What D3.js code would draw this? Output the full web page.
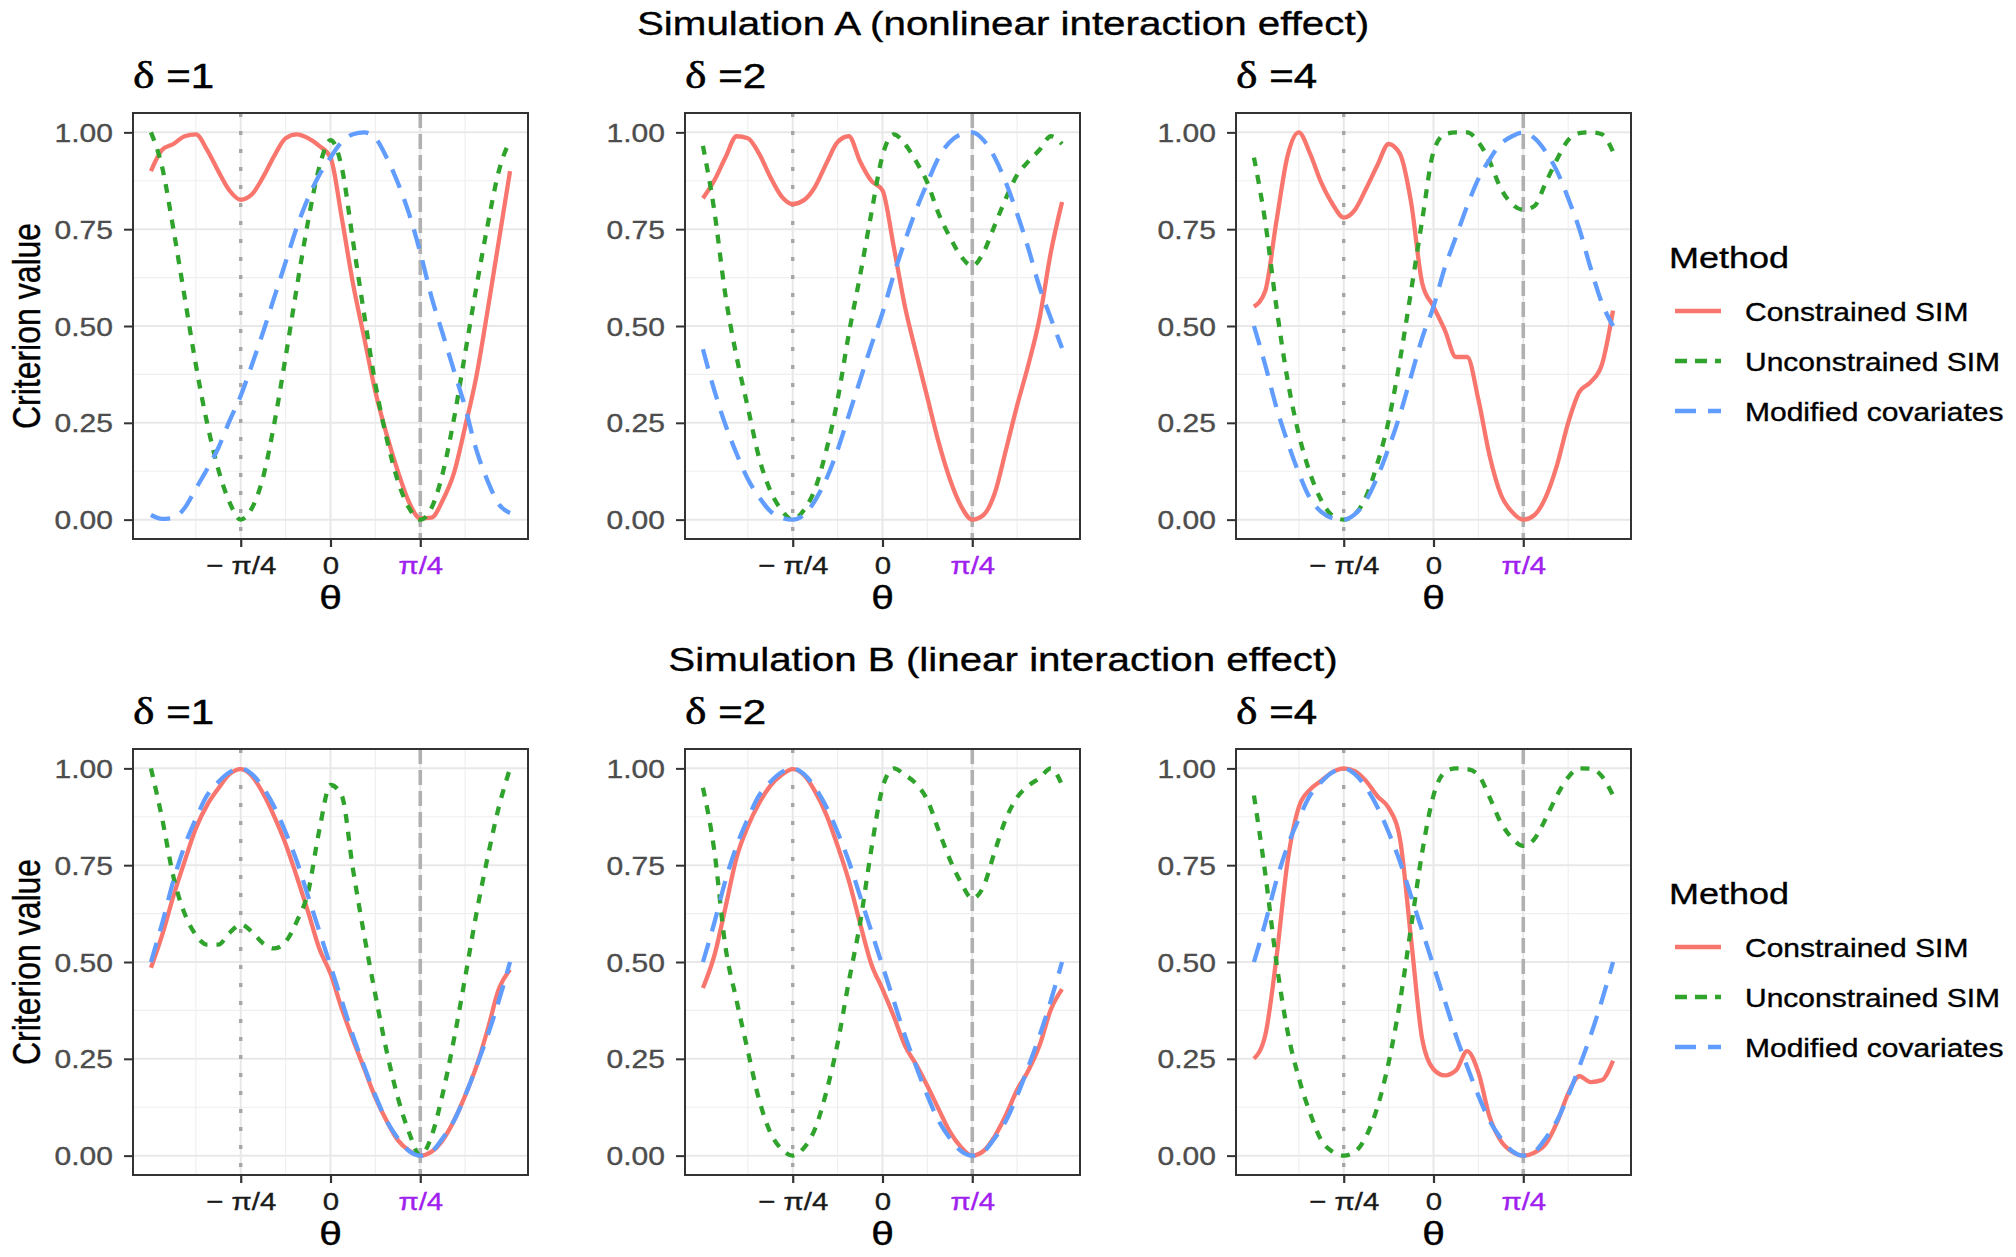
<!DOCTYPE html>
<html>
<head>
<meta charset="utf-8">
<script src="https://cdn.jsdelivr.net/npm/d3@7"></script>
<style>
  body { margin: 0; background: #ffffff; }
  svg { display: block; }
</style>
</head>
<body>
<svg id="chart" width="2016" height="1257"></svg>
<script>
// ---------------- DATA ----------------
// theta grid, in multiples of pi/32 (from -pi/2 to pi/2)
const thetaPi32 = [-16,-15,-14,-13,-12,-11,-10,-9,-8,-7,-6,-5,-4,-3,-2,-1,0,1,2,3,4,5,6,7,8,9,10,11,12,13,14,15,16];

const methods = ["Constrained SIM", "Unconstrained SIM", "Modified covariates"];
const simTitles = ["Simulation A (nonlinear interaction effect)", "Simulation B (linear interaction effect)"];
const deltas = [1, 2, 4];
const yTickValues = [0, 0.25, 0.5, 0.75, 1];
const yTickLabels = ["0.00", "0.25", "0.50", "0.75", "1.00"];
const xTickPi4 = [-1, 0, 1];            // multiples of pi/4
const xTickLabels = ["\u2212 \u03C0/4", "0", "\u03C0/4"];
const xMinorPi8 = [-3, -1, 1, 3];       // multiples of pi/8
const yMinorValues = [0.125, 0.375, 0.625, 0.875];

// Simulation A
const A1_constrained   = [0.90,0.955,0.97,0.99,0.995,0.955,0.90,0.85,0.826,0.84,0.885,0.94,0.985,0.995,0.985,0.965,0.935,0.78,0.61,0.47,0.33,0.22,0.125,0.045,0.003,0.005,0.05,0.12,0.24,0.37,0.54,0.72,0.90];
const A1_unconstrained = [1.0,0.91,0.75,0.575,0.40,0.25,0.13,0.045,0.0,0.03,0.11,0.25,0.42,0.60,0.77,0.91,0.98,0.91,0.72,0.53,0.35,0.21,0.10,0.03,0.0,0.03,0.12,0.26,0.43,0.60,0.76,0.90,0.98];
const A1_modified      = [0.012,0.002,0.005,0.03,0.08,0.13,0.185,0.255,0.32,0.40,0.485,0.575,0.665,0.755,0.83,0.89,0.935,0.975,0.995,1.0,0.985,0.935,0.87,0.79,0.69,0.575,0.48,0.385,0.29,0.18,0.10,0.04,0.017];

const A2_constrained   = [0.83,0.875,0.935,0.99,0.985,0.945,0.885,0.835,0.815,0.825,0.86,0.92,0.975,0.99,0.925,0.875,0.85,0.705,0.55,0.43,0.315,0.20,0.105,0.035,0.0,0.012,0.068,0.18,0.295,0.40,0.52,0.69,0.82];
const A2_unconstrained = [0.965,0.80,0.58,0.42,0.29,0.16,0.075,0.025,0.0,0.025,0.08,0.18,0.31,0.48,0.63,0.79,0.94,0.995,0.97,0.925,0.87,0.79,0.73,0.68,0.655,0.69,0.76,0.83,0.89,0.925,0.955,0.99,0.97];
const A2_modified      = [0.44,0.335,0.245,0.17,0.105,0.058,0.022,0.005,0.0,0.012,0.05,0.105,0.18,0.27,0.36,0.45,0.534,0.632,0.72,0.80,0.87,0.935,0.975,0.995,1.0,0.98,0.935,0.87,0.79,0.70,0.60,0.52,0.443];

const A3_constrained   = [0.55,0.59,0.77,0.94,1.0,0.945,0.87,0.815,0.78,0.80,0.855,0.915,0.97,0.945,0.82,0.61,0.55,0.49,0.42,0.42,0.31,0.165,0.065,0.02,0.0,0.012,0.058,0.14,0.25,0.33,0.355,0.40,0.54];
const A3_unconstrained = [0.935,0.77,0.55,0.36,0.22,0.12,0.05,0.01,0.0,0.014,0.06,0.145,0.255,0.41,0.59,0.775,0.95,0.995,1.0,1.0,0.975,0.925,0.855,0.815,0.80,0.81,0.87,0.93,0.98,0.998,1.0,0.995,0.95];
const A3_modified      = [0.50,0.40,0.29,0.20,0.12,0.055,0.02,0.004,0.0,0.014,0.05,0.11,0.185,0.27,0.37,0.47,0.55,0.65,0.73,0.81,0.88,0.93,0.97,0.99,1.0,0.985,0.95,0.90,0.83,0.75,0.65,0.56,0.50];

// Simulation B
const B1_constrained   = [0.485,0.57,0.67,0.76,0.845,0.905,0.948,0.985,0.998,0.98,0.935,0.875,0.805,0.72,0.63,0.535,0.47,0.38,0.30,0.225,0.15,0.09,0.04,0.013,0.0,0.01,0.04,0.09,0.155,0.23,0.325,0.43,0.48];
const B1_unconstrained = [1.0,0.87,0.72,0.625,0.57,0.545,0.545,0.575,0.597,0.578,0.548,0.535,0.552,0.605,0.68,0.84,0.957,0.93,0.74,0.57,0.415,0.27,0.15,0.06,0.0,0.05,0.16,0.30,0.46,0.625,0.77,0.90,1.0];
const B1_modified      = [0.50,0.60,0.71,0.80,0.87,0.93,0.965,0.99,1.0,0.985,0.95,0.90,0.835,0.76,0.67,0.58,0.49,0.40,0.31,0.23,0.155,0.09,0.045,0.012,0.0,0.01,0.045,0.09,0.155,0.23,0.31,0.40,0.50];

const B2_constrained   = [0.433,0.515,0.64,0.77,0.85,0.91,0.955,0.983,0.998,0.983,0.94,0.88,0.80,0.71,0.60,0.495,0.43,0.36,0.284,0.235,0.18,0.12,0.062,0.022,0.0,0.012,0.05,0.105,0.17,0.22,0.285,0.377,0.43];
const B2_unconstrained = [0.95,0.79,0.54,0.40,0.27,0.145,0.06,0.017,0.0,0.02,0.07,0.165,0.29,0.45,0.60,0.79,0.95,1.0,0.983,0.96,0.918,0.84,0.765,0.705,0.664,0.695,0.785,0.87,0.925,0.955,0.975,1.0,0.957];
const B2_modified      = [0.50,0.60,0.71,0.80,0.87,0.93,0.965,0.99,1.0,0.985,0.95,0.90,0.835,0.76,0.67,0.58,0.49,0.40,0.31,0.23,0.155,0.09,0.045,0.012,0.0,0.01,0.045,0.09,0.155,0.23,0.31,0.40,0.50];

const B3_constrained   = [0.25,0.31,0.51,0.76,0.90,0.945,0.968,0.99,1.0,0.993,0.967,0.928,0.898,0.82,0.56,0.30,0.223,0.207,0.22,0.27,0.215,0.10,0.038,0.01,0.0,0.008,0.03,0.085,0.16,0.205,0.19,0.195,0.245];
const B3_unconstrained = [0.93,0.73,0.50,0.32,0.20,0.11,0.04,0.01,0.0,0.01,0.05,0.125,0.24,0.395,0.59,0.785,0.93,0.99,1.0,0.998,0.983,0.925,0.86,0.82,0.80,0.818,0.87,0.93,0.977,1.0,0.999,0.98,0.93];
const B3_modified      = [0.50,0.60,0.71,0.80,0.87,0.93,0.965,0.99,1.0,0.985,0.95,0.90,0.835,0.76,0.67,0.58,0.49,0.40,0.31,0.23,0.155,0.09,0.045,0.012,0.0,0.01,0.045,0.09,0.155,0.23,0.31,0.40,0.50];

const panelSeries = [
  [[A1_constrained, A1_unconstrained, A1_modified],
   [A2_constrained, A2_unconstrained, A2_modified],
   [A3_constrained, A3_unconstrained, A3_modified]],
  [[B1_constrained, B1_unconstrained, B1_modified],
   [B2_constrained, B2_unconstrained, B2_modified],
   [B3_constrained, B3_unconstrained, B3_modified]]
];

// ---------------- STYLE / LAYOUT ----------------
const SX = 1.2;   // horizontal text stretch of the reference
const FONT = "'Liberation Sans', Arial, Helvetica, sans-serif";
const colors = ["#F8766D", "#2FA32B", "#619CFF"];
const dashPlot = [null, "9 9", "20 12"];
const dashKey  = [null, "12 8", "21 12"];
const lineW = 4.3;

const colX = [133, 685, 1236];
const rowY = [113, 749];
const PW = 395, PH = 426;

const svg = d3.select("#chart");
svg.append("rect").attr("width", 2016).attr("height", 1257).attr("fill", "#fff");

function T(g, x, y, str, o = {}) {
  const fill = o.fill || "#000";
  return g.append("text")
    .attr("transform", `translate(${x},${y}) scale(${SX},1)` + (o.rot ? ` rotate(${o.rot})` : ""))
    .attr("text-anchor", o.anchor || "start")
    .attr("font-family", o.family || FONT)
    .attr("font-size", o.size || 20)
    .attr("fill", fill)
    .attr("stroke", fill).attr("stroke-width", 0.35)
    .text(str);
}

const PI = Math.PI;
const thetas = thetaPi32.map(k => k * PI / 32);

rowY.forEach((top, r) => {
  // row title
  T(svg, 1003, top - 78, simTitles[r], {size: 33.6, anchor: "middle"});

  colX.forEach((left, c) => {
    const g = svg.append("g").attr("transform", `translate(${left},${top})`);
    const x = d3.scaleLinear().domain([-PI / 2 * 1.1, PI / 2 * 1.1]).range([0, PW]);
    const y = d3.scaleLinear().domain([-0.05, 1.05]).range([PH, 0]);

    // panel title
    const tt = g.append("text")
      .attr("transform", `translate(0,-25) scale(${SX},1)`)
      .attr("font-family", FONT).attr("font-size", 35).attr("fill", "#000")
      .attr("stroke", "#000").attr("stroke-width", 0.5);
    tt.append("tspan").attr("font-family", "'Liberation Serif', 'DejaVu Serif', serif").attr("font-size", 38).text("\u03B4");
    tt.append("tspan").text(" =" + deltas[c]);

    // background + grid
    g.append("rect").attr("width", PW).attr("height", PH).attr("fill", "#fff");
    g.selectAll(".ymin").data(yMinorValues).join("line")
      .attr("x1", 0).attr("x2", PW).attr("y1", d => y(d)).attr("y2", d => y(d))
      .attr("stroke", "#EFEFEF").attr("stroke-width", 1.2);
    g.selectAll(".xmin").data(xMinorPi8).join("line")
      .attr("y1", 0).attr("y2", PH).attr("x1", d => x(d * PI / 8)).attr("x2", d => x(d * PI / 8))
      .attr("stroke", "#EFEFEF").attr("stroke-width", 1.2);
    g.selectAll(".ymaj").data(yTickValues).join("line")
      .attr("x1", 0).attr("x2", PW).attr("y1", d => y(d)).attr("y2", d => y(d))
      .attr("stroke", "#E8E8E8").attr("stroke-width", 2);
    g.selectAll(".xmaj").data(xTickPi4).join("line")
      .attr("y1", 0).attr("y2", PH).attr("x1", d => x(d * PI / 4)).attr("x2", d => x(d * PI / 4))
      .attr("stroke", "#E8E8E8").attr("stroke-width", 2);

    // reference lines at -pi/4 (dotted) and pi/4 (dashed)
    g.append("line").attr("x1", x(-PI / 4)).attr("x2", x(-PI / 4)).attr("y1", 0).attr("y2", PH)
      .attr("stroke", "#A6A6A6").attr("stroke-width", 3.4).attr("stroke-dasharray", "4 14");
    g.append("line").attr("x1", x(PI / 4)).attr("x2", x(PI / 4)).attr("y1", 0).attr("y2", PH)
      .attr("stroke", "#B0B0B0").attr("stroke-width", 3.6).attr("stroke-dasharray", "15 6");

    // series
    const line = d3.line().x((d, i) => x(thetas[i])).y(d => y(d)).curve(d3.curveMonotoneX);
    panelSeries[r][c].forEach((vals, k) => {
      const p = g.append("path").attr("d", line(vals))
        .attr("fill", "none").attr("stroke", colors[k]).attr("stroke-width", lineW)
        .attr("stroke-linejoin", "round");
      if (dashPlot[k]) p.attr("stroke-dasharray", dashPlot[k]);
    });

    // border
    g.append("rect").attr("width", PW).attr("height", PH)
      .attr("fill", "none").attr("stroke", "#333333").attr("stroke-width", 2);

    // y axis
    const ya = g.append("g").call(
      d3.axisLeft(y).tickValues(yTickValues).tickFormat((d, i) => yTickLabels[i]).tickSize(9).tickPadding(0));
    ya.select(".domain").remove();
    ya.selectAll(".tick line").attr("stroke", "#333333").attr("stroke-width", 2);
    ya.selectAll(".tick text")
      .attr("transform", `scale(${SX},1)`).attr("x", -20 / SX).attr("dy", "0.36em")
      .attr("font-family", FONT).attr("font-size", 25).attr("fill", "#4D4D4D")
      .attr("stroke", "#4D4D4D").attr("stroke-width", 0.35);

    // x axis
    const xa = g.append("g").attr("transform", `translate(0,${PH})`).call(
      d3.axisBottom(x).tickValues(xTickPi4.map(d => d * PI / 4)).tickFormat((d, i) => xTickLabels[i]).tickSize(8).tickPadding(0));
    xa.select(".domain").remove();
    xa.selectAll(".tick line").attr("stroke", "#333333").attr("stroke-width", 2.2);
    xa.selectAll(".tick text")
      .attr("transform", `scale(${SX},1)`).attr("y", 35).attr("dy", 0)
      .attr("font-family", FONT).attr("font-size", 24.5)
      .attr("fill", (d, i) => i === 2 ? "#A020F0" : "#1A1A1A")
      .attr("stroke", (d, i) => i === 2 ? "#A020F0" : "#1A1A1A").attr("stroke-width", 0.35);

    // x axis title
    T(g, PW / 2, PH + 70, "\u03B8", {size: 34, anchor: "middle", fill: "#000"});
  });

  // y axis title
  T(svg, 40, top + PH / 2, "Criterion value", {size: 32, anchor: "middle", rot: -90});

  // legend
  const lg = svg.append("g").attr("transform", `translate(1669,${top})`);
  T(lg, 0, 155, "Method", {size: 30});
  methods.forEach((m, k) => {
    const yy = 198 + 50 * k;
    const l = lg.append("line").attr("x1", 6).attr("x2", 52).attr("y1", yy).attr("y2", yy)
      .attr("stroke", colors[k]).attr("stroke-width", lineW);
    if (dashKey[k]) l.attr("stroke-dasharray", dashKey[k]);
    T(lg, 76, yy + 10, m, {size: 25});
  });
});
</script>
</body>
</html>
